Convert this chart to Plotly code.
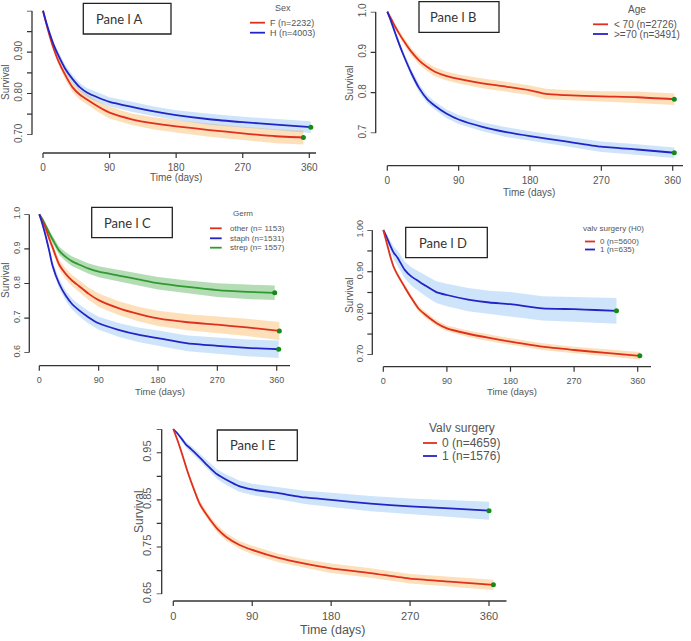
import plotly.graph_objects as go

W, H = 691, 641

def fx(x):
    return x / W

def fy(y):
    return 1 - y / H

# ---------------- DATA ----------------
x_ticks = [0, 90, 180, 270, 360]

y_ticks_a = [0.70, 0.75, 0.80, 0.85, 0.90, 0.95, 1.00]
y_text_a = ["0.70", "", "0.80", "", "0.90", "", "1.00"]
y_ticks_b = [0.7, 0.8, 0.9, 1.0]
y_text_b = ["0.7", "0.8", "0.9", "1.0"]
y_ticks_c = [0.6, 0.7, 0.8, 0.9, 1.0]
y_text_c = ["0.6", "0.7", "0.8", "0.9", "1.0"]
y_ticks_d = [0.70, 0.75, 0.80, 0.85, 0.90, 0.95, 1.00]
y_text_d = ["0.70", "", "0.80", "", "0.90", "", "1.00"]
y_ticks_e = [0.65, 0.70, 0.75, 0.80, 0.85, 0.90, 0.95, 1.00]
y_text_e = ["0.65", "", "0.75", "", "0.85", "", "0.95", ""]

# Panel A : Sex
a_h_t = [0, 5, 10, 15, 20, 30, 40, 50, 60, 75, 90, 120, 150, 180, 225, 270, 315, 362]
a_h_s = [1.0, 0.968, 0.940, 0.915, 0.895, 0.860, 0.835, 0.815, 0.802, 0.790, 0.780, 0.768, 0.757, 0.748, 0.738, 0.731, 0.725, 0.719]
a_h_lo = [1.0, 0.964, 0.934, 0.908, 0.887, 0.851, 0.825, 0.805, 0.791, 0.779, 0.769, 0.756, 0.745, 0.736, 0.725, 0.718, 0.712, 0.705]
a_h_hi = [1.0, 0.972, 0.946, 0.922, 0.903, 0.869, 0.845, 0.825, 0.813, 0.801, 0.791, 0.780, 0.769, 0.760, 0.751, 0.744, 0.738, 0.733]

a_f_t = [0, 5, 10, 15, 20, 30, 40, 50, 60, 75, 90, 120, 150, 180, 225, 270, 315, 352]
a_f_s = [1.0, 0.965, 0.933, 0.905, 0.882, 0.845, 0.815, 0.797, 0.785, 0.768, 0.754, 0.738, 0.728, 0.721, 0.712, 0.704, 0.697, 0.694]
a_f_lo = [1.0, 0.960, 0.926, 0.897, 0.873, 0.834, 0.803, 0.785, 0.772, 0.755, 0.740, 0.724, 0.713, 0.706, 0.696, 0.688, 0.680, 0.677]
a_f_hi = [1.0, 0.970, 0.940, 0.913, 0.891, 0.856, 0.827, 0.809, 0.798, 0.781, 0.768, 0.752, 0.743, 0.736, 0.728, 0.720, 0.714, 0.711]

# Panel B : Age
b_y_t = [0, 5, 10, 15, 20, 30, 40, 50, 60, 75, 90, 120, 150, 180, 200, 225, 270, 315, 362]
b_y_s = [1.0, 0.982, 0.963, 0.946, 0.930, 0.902, 0.880, 0.864, 0.852, 0.841, 0.834, 0.823, 0.815, 0.806, 0.797, 0.794, 0.791, 0.789, 0.784]
b_y_lo = [1.0, 0.978, 0.957, 0.939, 0.922, 0.893, 0.870, 0.854, 0.841, 0.830, 0.823, 0.811, 0.803, 0.794, 0.784, 0.781, 0.778, 0.775, 0.770]
b_y_hi = [1.0, 0.986, 0.969, 0.953, 0.938, 0.911, 0.890, 0.874, 0.863, 0.852, 0.845, 0.835, 0.827, 0.818, 0.810, 0.807, 0.804, 0.803, 0.798]

b_o_t = [0, 5, 10, 15, 20, 30, 40, 50, 60, 75, 90, 120, 150, 180, 225, 270, 315, 362]
b_o_s = [1.0, 0.975, 0.947, 0.920, 0.895, 0.850, 0.812, 0.785, 0.768, 0.748, 0.734, 0.716, 0.703, 0.693, 0.680, 0.667, 0.660, 0.652]
b_o_lo = [1.0, 0.971, 0.941, 0.913, 0.887, 0.841, 0.802, 0.775, 0.758, 0.737, 0.723, 0.705, 0.691, 0.681, 0.668, 0.654, 0.647, 0.639]
b_o_hi = [1.0, 0.979, 0.953, 0.927, 0.903, 0.859, 0.822, 0.795, 0.778, 0.759, 0.745, 0.727, 0.715, 0.705, 0.692, 0.680, 0.673, 0.665]

# Panel C : Germ
c_o_t = [0, 5, 10, 15, 20, 30, 40, 50, 60, 75, 90, 120, 150, 180, 225, 270, 315, 364]
c_o_s = [1.0, 0.980, 0.958, 0.930, 0.905, 0.855, 0.828, 0.808, 0.793, 0.770, 0.752, 0.729, 0.712, 0.699, 0.688, 0.681, 0.673, 0.663]
c_o_lo = [1.0, 0.974, 0.949, 0.919, 0.893, 0.841, 0.813, 0.792, 0.776, 0.752, 0.733, 0.709, 0.691, 0.677, 0.665, 0.657, 0.648, 0.637]
c_o_hi = [1.0, 0.986, 0.967, 0.941, 0.917, 0.869, 0.843, 0.824, 0.810, 0.788, 0.771, 0.749, 0.733, 0.721, 0.711, 0.705, 0.698, 0.689]

c_a_t = [0, 5, 10, 15, 20, 30, 40, 50, 60, 75, 90, 120, 150, 180, 225, 270, 315, 363]
c_a_s = [1.0, 0.970, 0.935, 0.895, 0.852, 0.800, 0.765, 0.740, 0.723, 0.702, 0.685, 0.666, 0.652, 0.642, 0.627, 0.620, 0.614, 0.610]
c_a_lo = [1.0, 0.964, 0.926, 0.884, 0.840, 0.786, 0.750, 0.724, 0.706, 0.684, 0.666, 0.646, 0.631, 0.620, 0.604, 0.596, 0.590, 0.585]
c_a_hi = [1.0, 0.976, 0.944, 0.906, 0.864, 0.814, 0.780, 0.756, 0.740, 0.720, 0.704, 0.686, 0.673, 0.664, 0.650, 0.644, 0.638, 0.635]

c_e_t = [0, 5, 10, 15, 20, 30, 40, 50, 60, 75, 90, 120, 150, 180, 225, 270, 315, 357]
c_e_s = [1.0, 0.985, 0.966, 0.946, 0.928, 0.895, 0.877, 0.864, 0.855, 0.843, 0.834, 0.823, 0.812, 0.801, 0.790, 0.781, 0.776, 0.773]
c_e_lo = [1.0, 0.980, 0.959, 0.937, 0.918, 0.883, 0.864, 0.850, 0.840, 0.828, 0.818, 0.806, 0.794, 0.783, 0.771, 0.761, 0.755, 0.752]
c_e_hi = [1.0, 0.990, 0.973, 0.955, 0.938, 0.907, 0.890, 0.878, 0.870, 0.858, 0.850, 0.840, 0.830, 0.819, 0.809, 0.801, 0.797, 0.794]

# Panel D : valv surgery (H0)
d_0_t = [0, 5, 10, 15, 20, 30, 40, 50, 60, 75, 90, 120, 150, 180, 225, 270, 315, 363]
d_0_s = [1.0, 0.968, 0.936, 0.910, 0.893, 0.864, 0.836, 0.811, 0.796, 0.777, 0.764, 0.751, 0.741, 0.732, 0.720, 0.712, 0.705, 0.698]
d_0_lo = [1.0, 0.965, 0.932, 0.905, 0.888, 0.858, 0.830, 0.804, 0.789, 0.770, 0.757, 0.743, 0.733, 0.724, 0.712, 0.704, 0.696, 0.689]
d_0_hi = [1.0, 0.971, 0.940, 0.915, 0.898, 0.870, 0.842, 0.818, 0.803, 0.784, 0.771, 0.759, 0.749, 0.740, 0.728, 0.720, 0.714, 0.707]

d_1_t = [0, 5, 10, 15, 20, 30, 40, 50, 60, 75, 90, 120, 150, 180, 225, 270, 300, 330]
d_1_s = [1.0, 0.982, 0.962, 0.945, 0.934, 0.905, 0.888, 0.877, 0.866, 0.851, 0.844, 0.833, 0.826, 0.822, 0.812, 0.810, 0.808, 0.806]
d_1_lo = [1.0, 0.974, 0.950, 0.930, 0.917, 0.885, 0.866, 0.853, 0.841, 0.825, 0.817, 0.805, 0.798, 0.793, 0.783, 0.780, 0.778, 0.775]
d_1_hi = [1.0, 0.990, 0.974, 0.960, 0.951, 0.925, 0.910, 0.901, 0.891, 0.877, 0.871, 0.861, 0.854, 0.851, 0.841, 0.840, 0.838, 0.837]

# Panel E : Valv surgery
e_0_t = [0, 5, 10, 15, 20, 30, 40, 50, 60, 75, 90, 120, 150, 180, 225, 270, 315, 365]
e_0_s = [1.0, 0.975, 0.947, 0.917, 0.890, 0.842, 0.813, 0.789, 0.772, 0.755, 0.744, 0.727, 0.715, 0.705, 0.695, 0.683, 0.677, 0.670]
e_0_lo = [1.0, 0.972, 0.943, 0.912, 0.884, 0.835, 0.806, 0.781, 0.764, 0.747, 0.735, 0.718, 0.706, 0.695, 0.685, 0.673, 0.667, 0.659]
e_0_hi = [1.0, 0.978, 0.951, 0.922, 0.896, 0.849, 0.820, 0.797, 0.780, 0.763, 0.753, 0.736, 0.724, 0.715, 0.705, 0.693, 0.687, 0.681]

e_1_t = [0, 5, 10, 15, 20, 30, 40, 50, 60, 75, 90, 120, 150, 180, 225, 270, 315, 360]
e_1_s = [1.0, 0.990, 0.978, 0.966, 0.958, 0.940, 0.921, 0.904, 0.893, 0.879, 0.872, 0.864, 0.855, 0.850, 0.842, 0.836, 0.832, 0.827]
e_1_lo = [1.0, 0.987, 0.973, 0.960, 0.951, 0.932, 0.912, 0.894, 0.882, 0.867, 0.860, 0.851, 0.841, 0.835, 0.826, 0.819, 0.814, 0.808]
e_1_hi = [1.0, 0.993, 0.983, 0.972, 0.965, 0.948, 0.930, 0.914, 0.904, 0.891, 0.884, 0.877, 0.869, 0.865, 0.858, 0.853, 0.850, 0.846]

# ---------------- STYLE ----------------
RED = "#df2f1f"
BLUE = "#2323c6"
GREEN = "#2f9a2f"
DOT = "#168a16"
RED_BAND = "rgba(250,165,60,0.36)"
BLUE_BAND = "rgba(120,180,240,0.36)"
GREEN_BAND = "rgba(60,165,60,0.38)"
AXC = "#333333"
TXC = "#555555"
FONT = "Liberation Sans, Arial, sans-serif"
BOXFONT = "Lato, Open Sans, sans-serif"

panels = [
    dict(k=1, x0=43, x360=309.3, xend=316, xline=153, yline=32, lo=0.70, hi=1.00,
         plo=135, phi=10.7, yt=y_ticks_a, ytt=y_text_a, tf=10,
         series=[(a_f_t, a_f_s, a_f_lo, a_f_hi, RED, RED_BAND),
                 (a_h_t, a_h_s, a_h_lo, a_h_hi, BLUE, BLUE_BAND)]),
    dict(k=2, x0=387.3, x360=672.7, xend=683, xline=165.7, yline=375.7, lo=0.7, hi=1.0,
         plo=133.3, phi=11.7, yt=y_ticks_b, ytt=y_text_b, tf=10,
         series=[(b_y_t, b_y_s, b_y_lo, b_y_hi, RED, RED_BAND),
                 (b_o_t, b_o_s, b_o_lo, b_o_hi, BLUE, BLUE_BAND)]),
    dict(k=3, x0=39.3, x360=276.7, xend=290, xline=365.7, yline=29.3, lo=0.6, hi=1.0,
         plo=352.7, phi=214.3, yt=y_ticks_c, ytt=y_text_c, tf=9,
         series=[(c_e_t, c_e_s, c_e_lo, c_e_hi, GREEN, GREEN_BAND),
                 (c_o_t, c_o_s, c_o_lo, c_o_hi, RED, RED_BAND),
                 (c_a_t, c_a_s, c_a_lo, c_a_hi, BLUE, BLUE_BAND)]),
    dict(k=4, x0=383.3, x360=637.7, xend=651, xline=366.7, yline=372.3, lo=0.70, hi=1.00,
         plo=355, phi=230, yt=y_ticks_d, ytt=y_text_d, tf=9,
         series=[(d_1_t, d_1_s, d_1_lo, d_1_hi, BLUE, BLUE_BAND),
                 (d_0_t, d_0_s, d_0_lo, d_0_hi, RED, RED_BAND)]),
    dict(k=5, x0=173.3, x360=489, xend=506.7, xline=601, yline=161.7, lo=0.65, hi=1.00,
         plo=594.3, phi=429, yt=y_ticks_e, ytt=y_text_e, tf=11,
         series=[(e_1_t, e_1_s, e_1_lo, e_1_hi, BLUE, BLUE_BAND),
                 (e_0_t, e_0_s, e_0_lo, e_0_hi, RED, RED_BAND)]),
]

fig = go.Figure()
layout = {}
shapes = []
annotations = []
TICKLEN = 5

def ax_name(prefix, n):
    return prefix if n == 1 else f"{prefix}{n}"

# helper subplots (ids 1-5): detached R-style survival axes
for p in panels:
    k = p["k"]
    hx, hy = ax_name("x", k), ax_name("y", k)
    fig.add_trace(go.Scatter(x=[None], y=[None], mode="markers", showlegend=False,
                             hoverinfo="skip", xaxis=hx, yaxis=hy))
    layout[ax_name("xaxis", k)] = dict(
        domain=[fx(p["yline"]), fx(p["xend"])], range=[0, 1], anchor=hy,
        visible=False, showgrid=False, zeroline=False, automargin=False)
    eps = 0.0004
    layout[ax_name("yaxis", k)] = dict(
        domain=[fy(p["plo"]), fy(p["phi"])], range=[p["lo"] - eps, p["hi"] + eps],
        anchor=hx, side="left", automargin=False,
        showline=False, ticks="outside", ticklen=TICKLEN, tickcolor="rgba(0,0,0,0)",
        tickmode="array", tickvals=p["yt"], ticktext=p["ytt"],
        tickangle=-90, tickfont=dict(family=FONT, size=p["tf"], color=TXC),
        showgrid=False, zeroline=False)
    # axis line and tick marks drawn on the axis' own scale
    shapes.append(dict(type="line", xref="paper", yref=hy, x0=fx(p["yline"]), x1=fx(p["yline"]),
                       y0=p["lo"], y1=p["hi"], line=dict(color=AXC, width=1.3)))
    for v in p["yt"]:
        shapes.append(dict(type="line", xref="paper", yref=hy,
                           x0=fx(p["yline"]), x1=fx(p["yline"] - TICKLEN),
                           y0=v, y1=v, line=dict(color=AXC, width=1.2)))

# data subplots (ids 6-10)
for p in panels:
    k = p["k"] + 5
    xs, ys = ax_name("x", k), ax_name("y", k)
    for (t, s, lo, hi, col, band) in p["series"]:
        fig.add_trace(go.Scatter(x=t + t[::-1], y=hi + lo[::-1], fill="toself",
                                 fillcolor=band, line=dict(width=0), mode="lines",
                                 hoverinfo="skip", showlegend=False, xaxis=xs, yaxis=ys))
    for (t, s, lo, hi, col, band) in p["series"]:
        fig.add_trace(go.Scatter(x=t, y=s, mode="lines",
                                 line=dict(color=col, width=1.8, shape="spline", smoothing=0.6),
                                 showlegend=False, xaxis=xs, yaxis=ys))
        fig.add_trace(go.Scatter(x=[t[-1]], y=[s[-1]], mode="markers",
                                 marker=dict(color=DOT, size=5),
                                 showlegend=False, xaxis=xs, yaxis=ys))

    ppx = (p["x360"] - p["x0"]) / 360.0
    pad = 1.5
    xr0 = -pad / ppx
    xr1 = (p["xend"] - p["x0"]) / ppx
    layout[ax_name("xaxis", k)] = dict(
        domain=[fx(p["x0"] - pad), fx(p["xend"])], range=[xr0, xr1],
        anchor=ys, automargin=False, showline=False,
        ticks="outside", ticklen=TICKLEN, tickcolor="rgba(0,0,0,0)",
        tickmode="array", tickvals=x_ticks,
        tickfont=dict(family=FONT, size=p["tf"], color=TXC),
        showgrid=False, zeroline=False)
    shapes.append(dict(type="line", xref=xs, yref="paper", x0=x_ticks[0], x1=xr1,
                       y0=fy(p["xline"]), y1=fy(p["xline"]), line=dict(color=AXC, width=1.3)))
    for v in x_ticks:
        shapes.append(dict(type="line", xref=xs, yref="paper", x0=v, x1=v,
                           y0=fy(p["xline"]), y1=fy(p["xline"] + TICKLEN),
                           line=dict(color=AXC, width=1.2)))

    ppy = (p["plo"] - p["phi"]) / (p["hi"] - p["lo"])
    top = p["phi"] - 5
    yr0 = p["lo"] - (p["xline"] - p["plo"]) / ppy
    yr1 = p["hi"] + (p["phi"] - top) / ppy
    layout[ax_name("yaxis", k)] = dict(
        domain=[fy(p["xline"]), fy(top)], range=[yr0, yr1], anchor=xs,
        showline=False, showticklabels=False, ticks="",
        showgrid=False, zeroline=False, automargin=False)

def txt(x, y, s, size, xanchor="center", angle=0, color=TXC, family=FONT):
    annotations.append(dict(x=fx(x), y=fy(y), xref="paper", yref="paper", text=s,
                            showarrow=False, xanchor=xanchor, yanchor="middle",
                            textangle=angle, font=dict(family=family, size=size, color=color)))

for (x, y, size) in [(175.7, 177.5, 10), (529, 192.5, 10), (160, 391, 9.5), (511.7, 391, 9.5), (333, 630, 12.5)]:
    txt(x, y, "Time (days)", size)
for (x, y, size) in [(5, 82, 10), (349, 83, 10), (5, 280, 10), (349, 295, 10), (139, 512, 12)]:
    txt(x, y, "Survival", size, angle=-90)

boxes = [("Pane l A", 83.3, 3.3, 171, 34, 94, 13),
         ("Pane l B", 419, 1.7, 499, 32.3, 428, 13),
         ("Pane l C", 91.7, 207.3, 172.3, 237.7, 101.7, 13),
         ("Pane l D", 405.7, 227.3, 487.3, 257.7, 416.7, 13),
         ("Pane l E", 217.3, 430, 297.3, 460.7, 228, 13)]
for (label, x0, y0, x1, y1, tx, size) in boxes:
    shapes.append(dict(type="rect", xref="paper", yref="paper", x0=fx(x0), x1=fx(x1),
                       y0=fy(y1), y1=fy(y0), line=dict(color="#222222", width=1.3)))
    txt(tx, (y0 + y1) / 2, label, size, xanchor="left", color="#333333", family=BOXFONT)

legends = [
    ("Sex", 283.3, 8.3, 9, 250, 265, 268, [(22.7, "F (n=2232)", RED), (32.7, "H (n=4003)", BLUE)]),
    ("Age", 636.7, 10, 10, 593, 608, 611.5, [(24.3, "< 70 (n=2726)", RED), (34, ">=70 (n=3491)", BLUE)]),
    ("Germ", 243.3, 213.3, 8, 210, 221.7, 228, [(228.3, "other (n= 1153)", RED), (238.3, "staph (n=1531)", BLUE),
                                              (247.7, "strep (n= 1557)", GREEN)]),
    ("valv surgery (H0)", 613, 228, 8, 585, 595, 598, [(241.5, "0 (n=5600)", RED), (249.5, "1 (n=635)", BLUE)]),
    ("Valv surgery", 461.7, 428.3, 12, 423, 437, 440, [(443, "0 (n=4659)", RED), (456, "1 (n=1576)", BLUE)]),
]
for (title, tx, ty, size, lx0, lx1, tx0, items) in legends:
    txt(tx, ty, title, size)
    for (iy, label, col) in items:
        shapes.append(dict(type="line", xref="paper", yref="paper", x0=fx(lx0), x1=fx(lx1),
                           y0=fy(iy), y1=fy(iy), line=dict(color=col, width=1.8)))
        txt(tx0, iy, label, size, xanchor="left")

layout.update(dict(template="none", width=W, height=H, autosize=False,
                   margin=dict(l=0, r=0, t=0, b=0, pad=0),
                   paper_bgcolor="white", plot_bgcolor="white",
                   showlegend=False, annotations=annotations, shapes=shapes,
                   font=dict(family=FONT, color=TXC)))
fig.update_layout(**layout)
fig.write_html("out.html", config={"displayModeBar": False},
               post_script="document.body.style.margin='0';document.body.style.overflow='hidden';")
